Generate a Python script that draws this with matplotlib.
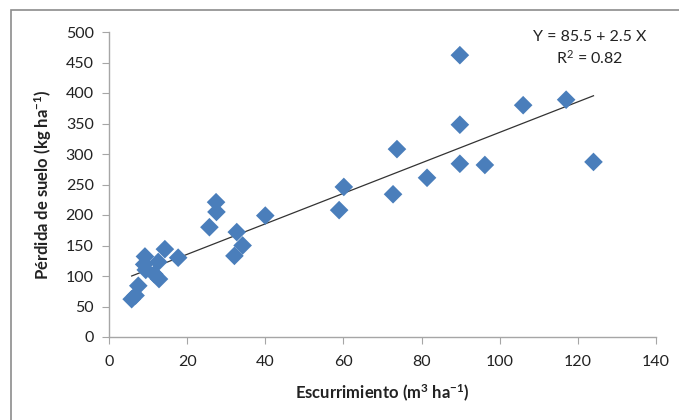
import matplotlib
matplotlib.use("Agg")
import numpy as np
import matplotlib.pyplot as plt
from matplotlib.patches import Rectangle

# ───────── datos ─────────
escurrimiento = [5.8, 6.8, 7.5, 9.2, 9.0, 9.4, 11.6, 12.8, 12.6, 14.3, 17.7,
                 25.7, 27.4, 27.5, 32.1, 32.7, 34.2, 40.0,
                 58.9, 60.1, 72.7, 73.7, 81.4,
                 89.8, 89.8, 89.8, 96.2, 106.0, 117.0, 124.0]
perdida = [62, 68, 84, 132, 119, 110, 103, 95, 123, 144, 130,
           180, 221, 205, 133, 172, 150, 199,
           208, 246, 234, 308, 261,
           462, 348, 284, 282, 380, 389, 287]

intercepto = 85.5
pendiente = 2.5
r2 = 0.82

plt.rcParams['font.family'] = ['Lato', 'DejaVu Sans']
plt.rcParams['mathtext.fontset'] = 'custom'
plt.rcParams['mathtext.rm'] = 'Lato'
plt.rcParams['mathtext.it'] = 'Lato:italic'
plt.rcParams['mathtext.bf'] = 'Lato:bold'

fig = plt.figure(figsize=(6.79, 4.2), dpi=100)
ax = fig.add_axes([109 / 679, 1 - 337 / 420, (656 - 109) / 679, (337 - 32) / 420])

ax.scatter(escurrimiento, perdida, marker='D', s=90, color='#4A7EBB',
           edgecolors='none', zorder=3)

xs = np.array([min(escurrimiento), max(escurrimiento)])
ax.plot(xs, intercepto + pendiente * xs, color='#333333', lw=0.9, zorder=2)

ax.set_xlim(0, 140)
ax.set_ylim(0, 500)
ax.set_xticks(range(0, 141, 20))
ax.set_yticks(range(0, 501, 50))

for s in ['top', 'right']:
    ax.spines[s].set_visible(False)
for s in ['left', 'bottom']:
    ax.spines[s].set_color('#A6A6A6')
    ax.spines[s].set_linewidth(1)
ax.tick_params(axis='both', colors='#A6A6A6', labelcolor='#222222',
               labelsize=11.5, length=5, direction='out')
ax.tick_params(axis='x', pad=8)
ax.tick_params(axis='y', pad=6)

ax.set_xlabel(r"Escurrimiento (m$^{\mathbf{3}}$ ha$^{\mathbf{-1}}$)", fontsize=12,
              fontweight='bold', color='#222222', labelpad=10)
ax.set_ylabel(r"Pérdida de suelo (kg ha$^{\mathbf{-1}}$)", fontsize=12,
              fontweight='bold', color='#222222', labelpad=8)

ax.text(123, 491, f"Y = {intercepto} + {pendiente} X", ha='center', va='center',
        fontsize=11.5, color='#222222')
ax.text(123, 457, f"R$^{{2}}$ = {r2}", ha='center', va='center',
        fontsize=11.5, color='#222222')

# marco exterior del gráfico
fig.patches.append(Rectangle((11 / 679, -0.1), 1.2, 1 - 10 / 420 + 0.1,
                             transform=fig.transFigure, fill=False,
                             edgecolor='#8C8C8C', lw=1.2))

fig.savefig("out.png", dpi=100)
